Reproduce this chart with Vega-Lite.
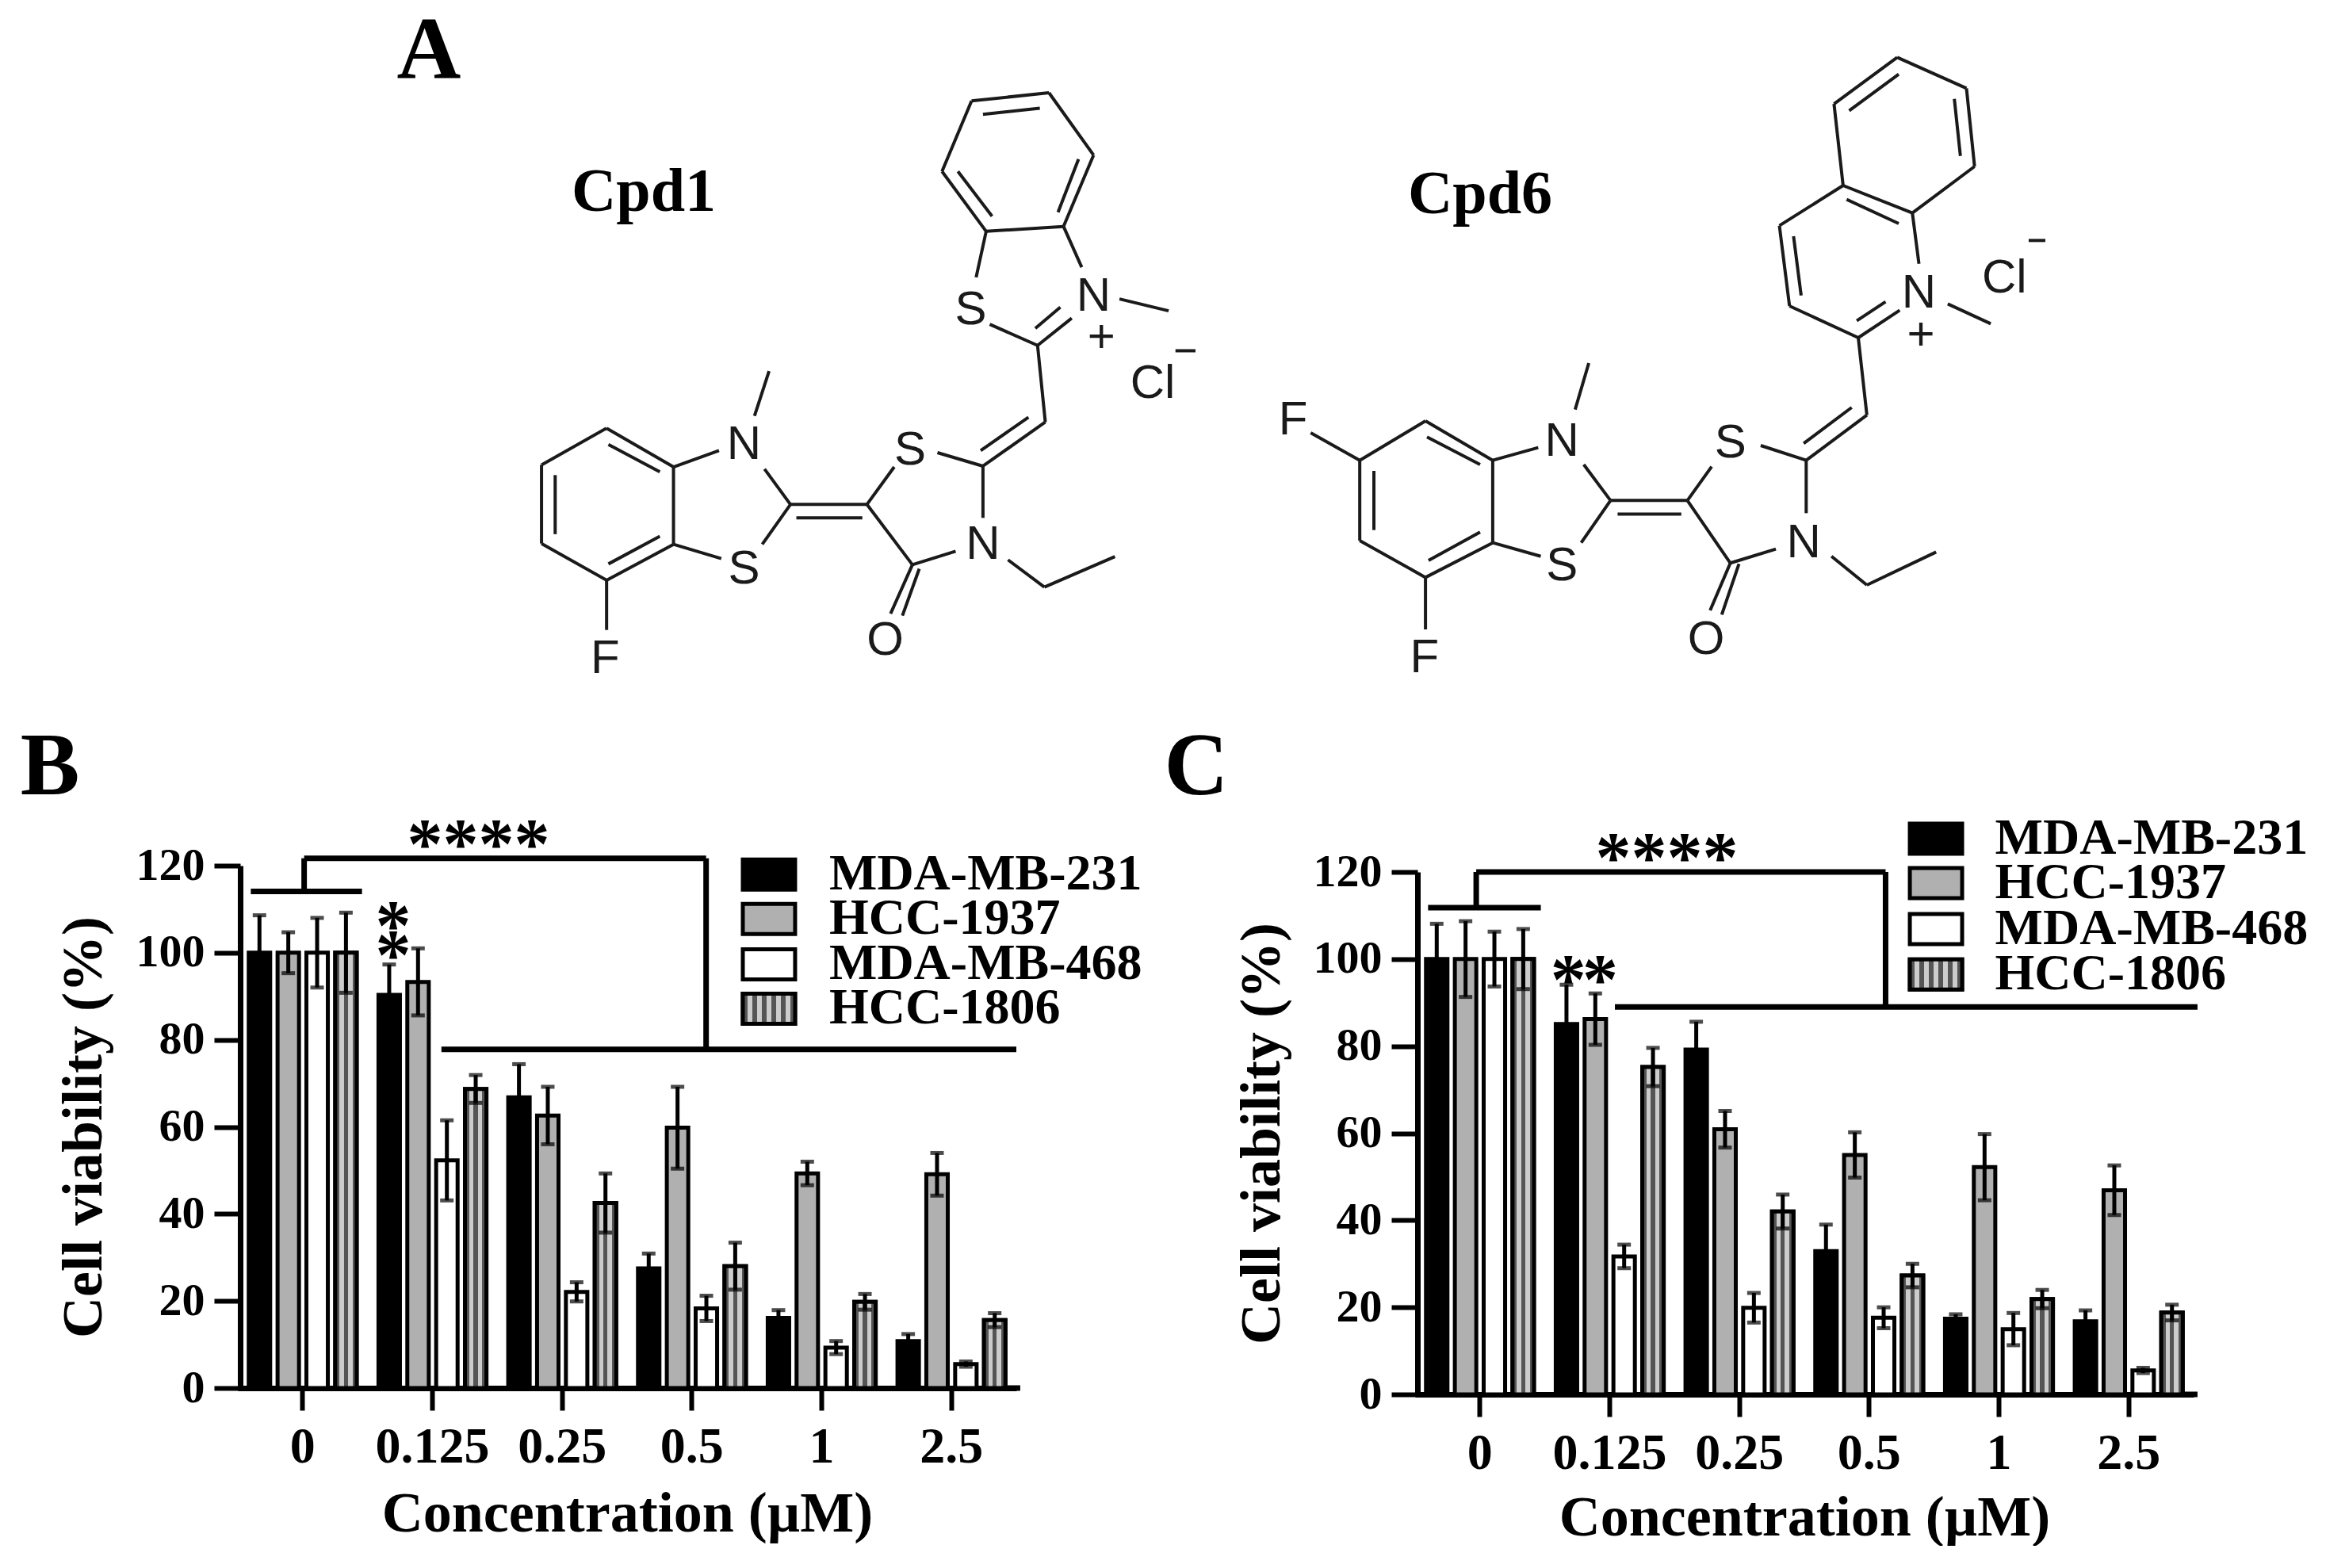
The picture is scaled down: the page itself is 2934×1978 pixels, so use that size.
{"$schema":"https://vega.github.io/schema/vega-lite/v6.json","background":"white","padding":0,"bounds":"flush","spacing":0,
"resolve":{"scale":{"fill":"independent"}},
"config":{"view":{"stroke":null},"font":"Liberation Serif"},
"datasets":{
"b":[{"conc":"0","line":"MDA-MB-231","v":100,"lo":91.4,"hi":108.6},{"conc":"0","line":"HCC-1937","v":100,"lo":95.3,"hi":104.7},{"conc":"0","line":"MDA-MB-468","v":100,"lo":92,"hi":108},{"conc":"0","line":"HCC-1806","v":100,"lo":90.8,"hi":109.2},
{"conc":"0.125","line":"MDA-MB-231","v":90.3,"lo":83.3,"hi":97.3},{"conc":"0.125","line":"HCC-1937","v":93.3,"lo":85.6,"hi":101},{"conc":"0.125","line":"MDA-MB-468","v":52.3,"lo":43.1,"hi":61.5},{"conc":"0.125","line":"HCC-1806","v":68.7,"lo":65.5,"hi":71.9},
{"conc":"0.25","line":"MDA-MB-231","v":66.8,"lo":59.2,"hi":74.4},{"conc":"0.25","line":"HCC-1937","v":62.6,"lo":56,"hi":69.2},{"conc":"0.25","line":"MDA-MB-468","v":22.1,"lo":19.9,"hi":24.3},{"conc":"0.25","line":"HCC-1806","v":42.5,"lo":35.7,"hi":49.3},
{"conc":"0.5","line":"MDA-MB-231","v":27.5,"lo":24.1,"hi":30.9},{"conc":"0.5","line":"HCC-1937","v":59.8,"lo":50.4,"hi":69.2},{"conc":"0.5","line":"MDA-MB-468","v":18.3,"lo":15.4,"hi":21.2},{"conc":"0.5","line":"HCC-1806","v":28,"lo":22.6,"hi":33.4},
{"conc":"1","line":"MDA-MB-231","v":16.1,"lo":14.3,"hi":17.9},{"conc":"1","line":"HCC-1937","v":49.3,"lo":46.6,"hi":52},{"conc":"1","line":"MDA-MB-468","v":9.3,"lo":7.8,"hi":10.8},{"conc":"1","line":"HCC-1806","v":19.8,"lo":18,"hi":21.6},
{"conc":"2.5","line":"MDA-MB-231","v":10.8,"lo":9.2,"hi":12.4},{"conc":"2.5","line":"HCC-1937","v":49.1,"lo":44.2,"hi":54},{"conc":"2.5","line":"MDA-MB-468","v":5.5,"lo":4.9,"hi":6.1},{"conc":"2.5","line":"HCC-1806","v":15.6,"lo":14,"hi":17.2}],
"c":[{"conc":"0","line":"MDA-MB-231","v":100,"lo":91.9,"hi":108.1},{"conc":"0","line":"HCC-1937","v":100,"lo":91.3,"hi":108.7},{"conc":"0","line":"MDA-MB-468","v":100,"lo":93.7,"hi":106.3},{"conc":"0","line":"HCC-1806","v":100,"lo":93.1,"hi":106.9},
{"conc":"0.125","line":"MDA-MB-231","v":85.1,"lo":76.1,"hi":94.1},{"conc":"0.125","line":"HCC-1937","v":86.2,"lo":80.3,"hi":92.1},{"conc":"0.125","line":"MDA-MB-468","v":31.7,"lo":29,"hi":34.4},{"conc":"0.125","line":"HCC-1806","v":75.2,"lo":70.8,"hi":79.6},
{"conc":"0.25","line":"MDA-MB-231","v":79.2,"lo":72.8,"hi":85.6},{"conc":"0.25","line":"HCC-1937","v":60.9,"lo":56.7,"hi":65.1},{"conc":"0.25","line":"MDA-MB-468","v":19.9,"lo":16.5,"hi":23.3},{"conc":"0.25","line":"HCC-1806","v":42,"lo":38.1,"hi":45.9},
{"conc":"0.5","line":"MDA-MB-231","v":32.9,"lo":26.8,"hi":39},{"conc":"0.5","line":"HCC-1937","v":55,"lo":49.8,"hi":60.2},{"conc":"0.5","line":"MDA-MB-468","v":17.6,"lo":15.2,"hi":20},{"conc":"0.5","line":"HCC-1806","v":27.3,"lo":24.6,"hi":30},
{"conc":"1","line":"MDA-MB-231","v":17.4,"lo":16.4,"hi":18.4},{"conc":"1","line":"HCC-1937","v":52.2,"lo":44.6,"hi":59.8},{"conc":"1","line":"MDA-MB-468","v":15,"lo":11.3,"hi":18.7},{"conc":"1","line":"HCC-1806","v":21.9,"lo":19.8,"hi":24},
{"conc":"2.5","line":"MDA-MB-231","v":16.8,"lo":14.3,"hi":19.3},{"conc":"2.5","line":"HCC-1937","v":46.9,"lo":41.2,"hi":52.6},{"conc":"2.5","line":"MDA-MB-468","v":5.5,"lo":4.9,"hi":6.1},{"conc":"2.5","line":"HCC-1806","v":18.8,"lo":17,"hi":20.6}],
"legB":[{"line":"MDA-MB-231","x":3.892,"x2":4.295,"y":114.48,"y2":121.4,"tx":4.558,"ty":117.94},{"line":"HCC-1937","x":3.892,"x2":4.295,"y":104.3,"y2":111.22,"tx":4.558,"ty":107.76},{"line":"MDA-MB-468","x":3.892,"x2":4.295,"y":93.87,"y2":100.79,"tx":4.558,"ty":97.33},{"line":"HCC-1806","x":3.892,"x2":4.295,"y":83.69,"y2":90.61,"tx":4.558,"ty":87.15}],
"legC":[{"line":"MDA-MB-231","x":3.813,"x2":4.216,"y":124.17,"y2":131.09,"tx":4.47,"ty":127.63},{"line":"HCC-1937","x":3.813,"x2":4.216,"y":113.97,"y2":120.89,"tx":4.47,"ty":117.43},{"line":"MDA-MB-468","x":3.813,"x2":4.216,"y":103.43,"y2":110.35,"tx":4.47,"ty":106.89},{"line":"HCC-1806","x":3.813,"x2":4.216,"y":93,"y2":99.92,"tx":4.47,"ty":96.46}],
"bB":[{"x":0.1,"x2":0.957,"y":114.1,"y2":114.1},{"x":0.511,"x2":0.511,"y":114.1,"y2":121.7},{"x":0.511,"x2":3.609,"y":121.7,"y2":121.7},{"x":3.609,"x2":3.609,"y":121.7,"y2":77.8},{"x":1.569,"x2":6,"y":77.8,"y2":77.8},{"x":5.9,"x2":6.03,"y":0,"y2":0}],
"tB":[{"x":1.854,"y":126.4,"t":"****"},{"x":1.197,"y":107.6,"t":"*"},{"x":1.197,"y":100.8,"t":"*"}],
"bC":[{"x":0.1,"x2":0.969,"y":111.8,"y2":111.8},{"x":0.471,"x2":0.471,"y":111.8,"y2":120},{"x":0.471,"x2":3.626,"y":120,"y2":120},{"x":3.626,"x2":3.626,"y":120,"y2":89},{"x":1.54,"x2":6.03,"y":89,"y2":89},{"x":5.9,"x2":6.03,"y":0,"y2":0}],
"tC":[{"x":1.94,"y":124.7,"t":"****"},{"x":1.18,"y":96.7,"t":"*"},{"x":1.426,"y":96.7,"t":"*"}],
"m1":[{"x":218,"y":895,"x2":365,"y2":990},{"x":365,"y":990,"x2":365,"y2":1180},{"x":365,"y":1180,"x2":218,"y2":1268},{"x":218,"y":1268,"x2":75,"y2":1178},{"x":75,"y":1178,"x2":75,"y2":985},{"x":75,"y":985,"x2":218,"y2":895},{"x":222,"y":935,"x2":335,"y2":1002},{"x":335,"y":1160,"x2":222,"y2":1228},{"x":105,"y":1010,"x2":105,"y2":1155},{"x":365,"y":990,"x2":465,"y2":950},{"x":543,"y":865,"x2":575,"y2":755},{"x":565,"y":995,"x2":622,"y2":1082},{"x":622,"y":1082,"x2":560,"y2":1180},{"x":365,"y":1180,"x2":470,"y2":1215},{"x":622,"y":1082,"x2":790,"y2":1082},{"x":635,"y":1115,"x2":780,"y2":1115},{"x":790,"y":1082,"x2":850,"y2":990},{"x":945,"y":955,"x2":1045,"y2":988},{"x":1045,"y":988,"x2":1182,"y2":880},{"x":1040,"y":950,"x2":1145,"y2":868},{"x":1182,"y":880,"x2":1165,"y2":692},{"x":1165,"y":692,"x2":1060,"y2":640},{"x":1165,"y":692,"x2":1240,"y2":625},{"x":1160,"y":650,"x2":1215,"y2":598},{"x":1345,"y":578,"x2":1453,"y2":607},{"x":1468,"y":705,"x2":1512,"y2":705},{"x":1030,"y":525,"x2":1052,"y2":412},{"x":1262,"y":500,"x2":1222,"y2":400},{"x":1052,"y":412,"x2":1222,"y2":400},{"x":1222,"y":400,"x2":1288,"y2":225},{"x":1288,"y":225,"x2":1190,"y2":72},{"x":1190,"y":72,"x2":1020,"y2":92},{"x":1020,"y":92,"x2":955,"y2":265},{"x":955,"y":265,"x2":1052,"y2":412},{"x":1210,"y":365,"x2":1255,"y2":235},{"x":1170,"y":110,"x2":1045,"y2":125},{"x":990,"y":265,"x2":1065,"y2":375},{"x":1045,"y":988,"x2":1045,"y2":1115},{"x":790,"y":1082,"x2":890,"y2":1230},{"x":890,"y":1230,"x2":985,"y2":1197},{"x":890,"y":1230,"x2":842,"y2":1350},{"x":868,"y":1355,"x2":905,"y2":1240},{"x":1100,"y":1218,"x2":1180,"y2":1285},{"x":1180,"y":1285,"x2":1335,"y2":1210},{"x":218,"y":1268,"x2":218,"y2":1390}],
"a1":[{"x":520,"y":935,"t":"N"},{"x":520,"y":1240,"t":"S"},{"x":885,"y":950,"t":"S"},{"x":1018,"y":605,"t":"S"},{"x":1288,"y":572,"t":"N"},{"x":1305,"y":672,"t":"+"},{"x":1418,"y":785,"t":"Cl"},{"x":1045,"y":1180,"t":"N"},{"x":830,"y":1415,"t":"O"},{"x":215,"y":1460,"t":"F"}],
"m6":[{"x":342,"y":902,"x2":475,"y2":995},{"x":475,"y":995,"x2":475,"y2":1190},{"x":475,"y":1190,"x2":342,"y2":1272},{"x":342,"y":1272,"x2":212,"y2":1185},{"x":212,"y":1185,"x2":212,"y2":995},{"x":212,"y":995,"x2":342,"y2":902},{"x":345,"y":940,"x2":450,"y2":1005},{"x":450,"y":1165,"x2":348,"y2":1232},{"x":240,"y":1020,"x2":240,"y2":1160},{"x":212,"y":995,"x2":115,"y2":930},{"x":342,"y":1272,"x2":342,"y2":1395},{"x":475,"y":995,"x2":565,"y2":965},{"x":638,"y":875,"x2":665,"y2":765},{"x":655,"y":1005,"x2":708,"y2":1090},{"x":708,"y":1090,"x2":650,"y2":1190},{"x":475,"y":1190,"x2":570,"y2":1222},{"x":708,"y":1090,"x2":860,"y2":1090},{"x":722,"y":1122,"x2":848,"y2":1122},{"x":860,"y":1090,"x2":908,"y2":1010},{"x":1005,"y":960,"x2":1095,"y2":995},{"x":1095,"y":995,"x2":1215,"y2":888},{"x":1090,"y":955,"x2":1185,"y2":870},{"x":1215,"y":888,"x2":1198,"y2":705},{"x":1198,"y":705,"x2":1062,"y2":630},{"x":1062,"y":630,"x2":1042,"y2":440},{"x":1085,"y":605,"x2":1070,"y2":465},{"x":1042,"y":440,"x2":1168,"y2":345},{"x":1168,"y":345,"x2":1305,"y2":410},{"x":1175,"y":378,"x2":1278,"y2":435},{"x":1305,"y":410,"x2":1318,"y2":530},{"x":1198,"y":705,"x2":1280,"y2":640},{"x":1195,"y":665,"x2":1252,"y2":620},{"x":1375,"y":625,"x2":1460,"y2":672},{"x":1535,"y":475,"x2":1568,"y2":475},{"x":1168,"y":345,"x2":1150,"y2":152},{"x":1150,"y":152,"x2":1275,"y2":42},{"x":1275,"y":42,"x2":1412,"y2":115},{"x":1412,"y":115,"x2":1428,"y2":300},{"x":1428,"y":300,"x2":1305,"y2":410},{"x":1180,"y":168,"x2":1278,"y2":82},{"x":1388,"y":140,"x2":1400,"y2":275},{"x":1095,"y":995,"x2":1095,"y2":1120},{"x":860,"y":1090,"x2":945,"y2":1238},{"x":945,"y":1238,"x2":1035,"y2":1205},{"x":945,"y":1238,"x2":905,"y2":1350},{"x":962,"y":1240,"x2":928,"y2":1360},{"x":1145,"y":1222,"x2":1215,"y2":1290},{"x":1215,"y":1290,"x2":1352,"y2":1212}],
"a6":[{"x":80,"y":900,"t":"F"},{"x":340,"y":1462,"t":"F"},{"x":612,"y":950,"t":"N"},{"x":612,"y":1245,"t":"S"},{"x":945,"y":955,"t":"S"},{"x":1318,"y":600,"t":"N"},{"x":1322,"y":700,"t":"+"},{"x":1487,"y":565,"t":"Cl"},{"x":1090,"y":1190,"t":"N"},{"x":897,"y":1420,"t":"O"}],
"labels":[{"x":541,"y":65,"t":"A","s":"p"},{"x":63,"y":968,"t":"B","s":"p"},{"x":1509,"y":968,"t":"C","s":"p"},{"x":812,"y":243,"t":"Cpd1","s":"c"},{"x":1867,"y":246,"t":"Cpd6","s":"c"}]
},
"vconcat":[
{"width":2934,"height":1092,"resolve":{"scale":{"x":"independent","y":"independent"}},"layer":[
{"data":{"name":"labels"},"mark":{"type":"text","fontWeight":"bold","font":"Liberation Serif","baseline":"middle","align":"center"},"encoding":{"x":{"field":"x","type":"quantitative","scale":{"domain":[0,2934],"nice":false,"zero":false},"axis":null},"y":{"field":"y","type":"quantitative","scale":{"domain":[1092,0],"nice":false,"zero":false},"axis":null},"text":{"field":"t"},"size":{"field":"s","type":"nominal","scale":{"domain":["p","c"],"range":[112,78]},"legend":null}}},
{"layer":[
{"data":{"name":"m1"},"mark":{"type":"rule","strokeWidth":4,"color":"#1a1a1a"},"encoding":{"x":{"field":"x","type":"quantitative","scale":{"domain":[-1114.9,3996.1],"nice":false,"zero":false},"axis":null},"x2":{"field":"x2"},"y":{"field":"y","type":"quantitative","scale":{"domain":[1968.3,-155.6],"nice":false,"zero":false},"axis":null},"y2":{"field":"y2"}}},
{"data":{"name":"a1"},"mark":{"type":"text","font":"Liberation Sans","fontSize":60,"baseline":"middle","align":"center","color":"#1a1a1a"},"encoding":{"x":{"field":"x","type":"quantitative","scale":{"domain":[-1114.9,3996.1],"nice":false,"zero":false},"axis":null},"y":{"field":"y","type":"quantitative","scale":{"domain":[1968.3,-155.6],"nice":false,"zero":false},"axis":null},"text":{"field":"t"}}}
]},
{"layer":[
{"data":{"name":"m6"},"mark":{"type":"rule","strokeWidth":4,"color":"#1a1a1a"},"encoding":{"x":{"field":"x","type":"quantitative","scale":{"domain":[-2477.4,2123.1],"nice":false,"zero":false},"axis":null},"x2":{"field":"x2"},"y":{"field":"y","type":"quantitative","scale":{"domain":[1953.75,-93.75],"nice":false,"zero":false},"axis":null},"y2":{"field":"y2"}}},
{"data":{"name":"a6"},"mark":{"type":"text","font":"Liberation Sans","fontSize":60,"baseline":"middle","align":"center","color":"#1a1a1a"},"encoding":{"x":{"field":"x","type":"quantitative","scale":{"domain":[-2477.4,2123.1],"nice":false,"zero":false},"axis":null},"y":{"field":"y","type":"quantitative","scale":{"domain":[1953.75,-93.75],"nice":false,"zero":false},"axis":null},"text":{"field":"t"}}}
]}
]},
{"bounds":"flush","spacing":0,"resolve":{"scale":{"fill":"independent"}},"hconcat":[
{"width":300,"height":10,"data":{"values":[{"a":1}]},"mark":{"type":"point","opacity":0}},
{"width":982,"height":659,"resolve":{"scale":{"x":"independent"}},"layer":[
{"data":{"name":"b"},"mark":{"type":"bar","stroke":"black","strokeWidth":5},"encoding":{
"x":{"field":"conc","type":"nominal","sort":["0","0.125","0.25","0.5","1","2.5"],"scale":{"paddingInner":0.168,"paddingOuter":0.084},"axis":{"title":"Concentration (µM)","labelAngle":0,"labelFont":"Liberation Serif","labelFontWeight":"bold","labelFontSize":64,"labelColor":"black","labelPadding":14,"titleFont":"Liberation Serif","titleFontWeight":"bold","titleFontSize":72,"titleColor":"black","titlePadding":17,"domainColor":"black","domainWidth":7,"tickColor":"black","tickWidth":6,"tickSize":28}},
"xOffset":{"field":"line","type":"nominal","sort":["MDA-MB-231","HCC-1937","MDA-MB-468","HCC-1806"],"scale":{"paddingInner":0.256,"paddingOuter":0}},
"y":{"field":"v","type":"quantitative","scale":{"domain":[0,120],"nice":false},"axis":{"title":"Cell viability (%)","values":[0,20,40,60,80,100,120],"grid":false,"offset":-3,"labelFont":"Liberation Serif","labelFontWeight":"bold","labelFontSize":58,"labelColor":"black","labelPadding":12,"titleFont":"Liberation Serif","titleFontWeight":"bold","titleFontSize":72,"titleColor":"black","titlePadding":29,"domainColor":"black","domainWidth":7,"tickColor":"black","tickWidth":6,"tickSize":33}},
"fill":{"field":"line","type":"nominal","scale":{"domain":["MDA-MB-231","HCC-1937","MDA-MB-468","HCC-1806"],"range":["#000000","#b0b0b0","#ffffff","#808080"]},"legend":null}}},
{"data":{"name":"b"},"transform":[{"filter":"datum.line==='HCC-1806'"}],"mark":{"type":"bar","stroke":"black","strokeWidth":5,"fill":{"gradient":"linear","x1":0,"y1":0,"x2":1,"y2":0,"stops":[{"offset":0,"color":"#555"},{"offset":0.2,"color":"#555"},{"offset":0.2,"color":"#ccc"},{"offset":0.4,"color":"#ccc"},{"offset":0.4,"color":"#555"},{"offset":0.6,"color":"#555"},{"offset":0.6,"color":"#ccc"},{"offset":0.8,"color":"#ccc"},{"offset":0.8,"color":"#555"},{"offset":1,"color":"#555"}]}},"encoding":{"x":{"field":"conc","type":"nominal","sort":["0","0.125","0.25","0.5","1","2.5"],"scale":{"paddingInner":0.168,"paddingOuter":0.084},"axis":null},"xOffset":{"field":"line","type":"nominal","sort":["MDA-MB-231","HCC-1937","MDA-MB-468","HCC-1806"],"scale":{"paddingInner":0.256,"paddingOuter":0}},"y":{"field":"v","type":"quantitative"}}},
{"data":{"name":"b"},"mark":{"type":"rule","color":"black","strokeWidth":5},"encoding":{"x":{"field":"conc","type":"nominal","sort":["0","0.125","0.25","0.5","1","2.5"],"scale":{"paddingInner":0.168,"paddingOuter":0.084},"axis":null},"xOffset":{"field":"line","type":"nominal","sort":["MDA-MB-231","HCC-1937","MDA-MB-468","HCC-1806"],"scale":{"paddingInner":0.256,"paddingOuter":0}},"y":{"field":"lo","type":"quantitative"},"y2":{"field":"hi"}}},
{"data":{"name":"b"},"mark":{"type":"tick","color":"black","thickness":5,"size":17},"encoding":{"x":{"field":"conc","type":"nominal","sort":["0","0.125","0.25","0.5","1","2.5"],"scale":{"paddingInner":0.168,"paddingOuter":0.084},"axis":null},"xOffset":{"field":"line","type":"nominal","sort":["MDA-MB-231","HCC-1937","MDA-MB-468","HCC-1806"],"scale":{"paddingInner":0.256,"paddingOuter":0}},"y":{"field":"hi","type":"quantitative"}}},
{"data":{"name":"b"},"mark":{"type":"tick","color":"black","thickness":5,"size":17},"encoding":{"x":{"field":"conc","type":"nominal","sort":["0","0.125","0.25","0.5","1","2.5"],"scale":{"paddingInner":0.168,"paddingOuter":0.084},"axis":null},"xOffset":{"field":"line","type":"nominal","sort":["MDA-MB-231","HCC-1937","MDA-MB-468","HCC-1806"],"scale":{"paddingInner":0.256,"paddingOuter":0}},"y":{"field":"lo","type":"quantitative"}}},
{"data":{"name":"bB"},"mark":{"type":"rule","color":"black","strokeWidth":7},"encoding":{"x":{"field":"x","type":"quantitative","scale":{"domain":[0,6],"nice":false},"axis":null},"x2":{"field":"x2"},"y":{"field":"y","type":"quantitative"},"y2":{"field":"y2"}}},
{"data":{"name":"tB"},"mark":{"type":"text","fontSize":90,"fontWeight":"bold","font":"Liberation Serif","color":"black","baseline":"middle","align":"center","dy":11},"encoding":{"x":{"field":"x","type":"quantitative","scale":{"domain":[0,6],"nice":false},"axis":null},"y":{"field":"y","type":"quantitative"},"text":{"field":"t"}}},
{"data":{"name":"legB"},"mark":{"type":"rect","stroke":"black","strokeWidth":5},"encoding":{"x":{"field":"x","type":"quantitative","scale":{"domain":[0,6],"nice":false},"axis":null},"x2":{"field":"x2"},"y":{"field":"y","type":"quantitative"},"y2":{"field":"y2"},"fill":{"field":"line","type":"nominal","legend":null}}},
{"data":{"name":"legB"},"transform":[{"filter":"datum.line==='HCC-1806'"}],"mark":{"type":"rect","stroke":"black","strokeWidth":5,"fill":{"gradient":"linear","x1":0,"y1":0,"x2":1,"y2":0,"stops":[{"offset":0,"color":"#555"},{"offset":0.09,"color":"#555"},{"offset":0.09,"color":"#ccc"},{"offset":0.18,"color":"#ccc"},{"offset":0.18,"color":"#555"},{"offset":0.27,"color":"#555"},{"offset":0.27,"color":"#ccc"},{"offset":0.36,"color":"#ccc"},{"offset":0.36,"color":"#555"},{"offset":0.45,"color":"#555"},{"offset":0.45,"color":"#ccc"},{"offset":0.55,"color":"#ccc"},{"offset":0.55,"color":"#555"},{"offset":0.64,"color":"#555"},{"offset":0.64,"color":"#ccc"},{"offset":0.73,"color":"#ccc"},{"offset":0.73,"color":"#555"},{"offset":0.82,"color":"#555"},{"offset":0.82,"color":"#ccc"},{"offset":0.91,"color":"#ccc"},{"offset":0.91,"color":"#555"},{"offset":1,"color":"#555"}]}},"encoding":{"x":{"field":"x","type":"quantitative","scale":{"domain":[0,6],"nice":false},"axis":null},"x2":{"field":"x2"},"y":{"field":"y","type":"quantitative"},"y2":{"field":"y2"}}},
{"data":{"name":"legB"},"mark":{"type":"text","fontSize":64,"fontWeight":"bold","font":"Liberation Serif","color":"black","baseline":"middle","align":"left"},"encoding":{"x":{"field":"tx","type":"quantitative","scale":{"domain":[0,6],"nice":false},"axis":null},"y":{"field":"ty","type":"quantitative"},"text":{"field":"line"}}}
]},
{"width":503,"height":10,"data":{"values":[{"a":1}]},"mark":{"type":"point","opacity":0}},
{"bounds":"flush","spacing":0,"vconcat":[
{"width":10,"height":8,"data":{"values":[{"a":1}]},"mark":{"type":"point","opacity":0}},
{"width":982,"height":659,"resolve":{"scale":{"x":"independent"}},"layer":[
{"data":{"name":"c"},"mark":{"type":"bar","stroke":"black","strokeWidth":5},"encoding":{
"x":{"field":"conc","type":"nominal","sort":["0","0.125","0.25","0.5","1","2.5"],"scale":{"paddingInner":0.168,"paddingOuter":0.084},"axis":{"title":"Concentration (µM)","labelAngle":0,"labelFont":"Liberation Serif","labelFontWeight":"bold","labelFontSize":64,"labelColor":"black","labelPadding":14,"titleFont":"Liberation Serif","titleFontWeight":"bold","titleFontSize":72,"titleColor":"black","titlePadding":14,"domainColor":"black","domainWidth":7,"tickColor":"black","tickWidth":6,"tickSize":28}},
"xOffset":{"field":"line","type":"nominal","sort":["MDA-MB-231","HCC-1937","MDA-MB-468","HCC-1806"],"scale":{"paddingInner":0.256,"paddingOuter":0}},
"y":{"field":"v","type":"quantitative","scale":{"domain":[0,120],"nice":false},"axis":{"title":"Cell viability (%)","values":[0,20,40,60,80,100,120],"grid":false,"offset":-3,"labelFont":"Liberation Serif","labelFontWeight":"bold","labelFontSize":58,"labelColor":"black","labelPadding":12,"titleFont":"Liberation Serif","titleFontWeight":"bold","titleFontSize":72,"titleColor":"black","titlePadding":28,"domainColor":"black","domainWidth":7,"tickColor":"black","tickWidth":6,"tickSize":33}},
"fill":{"field":"line","type":"nominal","scale":{"domain":["MDA-MB-231","HCC-1937","MDA-MB-468","HCC-1806"],"range":["#000000","#b0b0b0","#ffffff","#808080"]},"legend":null}}},
{"data":{"name":"c"},"transform":[{"filter":"datum.line==='HCC-1806'"}],"mark":{"type":"bar","stroke":"black","strokeWidth":5,"fill":{"gradient":"linear","x1":0,"y1":0,"x2":1,"y2":0,"stops":[{"offset":0,"color":"#555"},{"offset":0.2,"color":"#555"},{"offset":0.2,"color":"#ccc"},{"offset":0.4,"color":"#ccc"},{"offset":0.4,"color":"#555"},{"offset":0.6,"color":"#555"},{"offset":0.6,"color":"#ccc"},{"offset":0.8,"color":"#ccc"},{"offset":0.8,"color":"#555"},{"offset":1,"color":"#555"}]}},"encoding":{"x":{"field":"conc","type":"nominal","sort":["0","0.125","0.25","0.5","1","2.5"],"scale":{"paddingInner":0.168,"paddingOuter":0.084},"axis":null},"xOffset":{"field":"line","type":"nominal","sort":["MDA-MB-231","HCC-1937","MDA-MB-468","HCC-1806"],"scale":{"paddingInner":0.256,"paddingOuter":0}},"y":{"field":"v","type":"quantitative"}}},
{"data":{"name":"c"},"mark":{"type":"rule","color":"black","strokeWidth":5},"encoding":{"x":{"field":"conc","type":"nominal","sort":["0","0.125","0.25","0.5","1","2.5"],"scale":{"paddingInner":0.168,"paddingOuter":0.084},"axis":null},"xOffset":{"field":"line","type":"nominal","sort":["MDA-MB-231","HCC-1937","MDA-MB-468","HCC-1806"],"scale":{"paddingInner":0.256,"paddingOuter":0}},"y":{"field":"lo","type":"quantitative"},"y2":{"field":"hi"}}},
{"data":{"name":"c"},"mark":{"type":"tick","color":"black","thickness":5,"size":17},"encoding":{"x":{"field":"conc","type":"nominal","sort":["0","0.125","0.25","0.5","1","2.5"],"scale":{"paddingInner":0.168,"paddingOuter":0.084},"axis":null},"xOffset":{"field":"line","type":"nominal","sort":["MDA-MB-231","HCC-1937","MDA-MB-468","HCC-1806"],"scale":{"paddingInner":0.256,"paddingOuter":0}},"y":{"field":"hi","type":"quantitative"}}},
{"data":{"name":"c"},"mark":{"type":"tick","color":"black","thickness":5,"size":17},"encoding":{"x":{"field":"conc","type":"nominal","sort":["0","0.125","0.25","0.5","1","2.5"],"scale":{"paddingInner":0.168,"paddingOuter":0.084},"axis":null},"xOffset":{"field":"line","type":"nominal","sort":["MDA-MB-231","HCC-1937","MDA-MB-468","HCC-1806"],"scale":{"paddingInner":0.256,"paddingOuter":0}},"y":{"field":"lo","type":"quantitative"}}},
{"data":{"name":"bC"},"mark":{"type":"rule","color":"black","strokeWidth":7},"encoding":{"x":{"field":"x","type":"quantitative","scale":{"domain":[0,6],"nice":false},"axis":null},"x2":{"field":"x2"},"y":{"field":"y","type":"quantitative"},"y2":{"field":"y2"}}},
{"data":{"name":"tC"},"mark":{"type":"text","fontSize":90,"fontWeight":"bold","font":"Liberation Serif","color":"black","baseline":"middle","align":"center","dy":11},"encoding":{"x":{"field":"x","type":"quantitative","scale":{"domain":[0,6],"nice":false},"axis":null},"y":{"field":"y","type":"quantitative"},"text":{"field":"t"}}},
{"data":{"name":"legC"},"mark":{"type":"rect","stroke":"black","strokeWidth":5},"encoding":{"x":{"field":"x","type":"quantitative","scale":{"domain":[0,6],"nice":false},"axis":null},"x2":{"field":"x2"},"y":{"field":"y","type":"quantitative"},"y2":{"field":"y2"},"fill":{"field":"line","type":"nominal","legend":null}}},
{"data":{"name":"legC"},"transform":[{"filter":"datum.line==='HCC-1806'"}],"mark":{"type":"rect","stroke":"black","strokeWidth":5,"fill":{"gradient":"linear","x1":0,"y1":0,"x2":1,"y2":0,"stops":[{"offset":0,"color":"#555"},{"offset":0.09,"color":"#555"},{"offset":0.09,"color":"#ccc"},{"offset":0.18,"color":"#ccc"},{"offset":0.18,"color":"#555"},{"offset":0.27,"color":"#555"},{"offset":0.27,"color":"#ccc"},{"offset":0.36,"color":"#ccc"},{"offset":0.36,"color":"#555"},{"offset":0.45,"color":"#555"},{"offset":0.45,"color":"#ccc"},{"offset":0.55,"color":"#ccc"},{"offset":0.55,"color":"#555"},{"offset":0.64,"color":"#555"},{"offset":0.64,"color":"#ccc"},{"offset":0.73,"color":"#ccc"},{"offset":0.73,"color":"#555"},{"offset":0.82,"color":"#555"},{"offset":0.82,"color":"#ccc"},{"offset":0.91,"color":"#ccc"},{"offset":0.91,"color":"#555"},{"offset":1,"color":"#555"}]}},"encoding":{"x":{"field":"x","type":"quantitative","scale":{"domain":[0,6],"nice":false},"axis":null},"x2":{"field":"x2"},"y":{"field":"y","type":"quantitative"},"y2":{"field":"y2"}}},
{"data":{"name":"legC"},"mark":{"type":"text","fontSize":64,"fontWeight":"bold","font":"Liberation Serif","color":"black","baseline":"middle","align":"left"},"encoding":{"x":{"field":"tx","type":"quantitative","scale":{"domain":[0,6],"nice":false},"axis":null},"y":{"field":"ty","type":"quantitative"},"text":{"field":"line"}}}
]}
],"resolve":{"scale":{"fill":"independent"}}}
]},
{"width":2934,"height":219,"data":{"values":[{"a":1}]},"mark":{"type":"point","opacity":0}}
]}
